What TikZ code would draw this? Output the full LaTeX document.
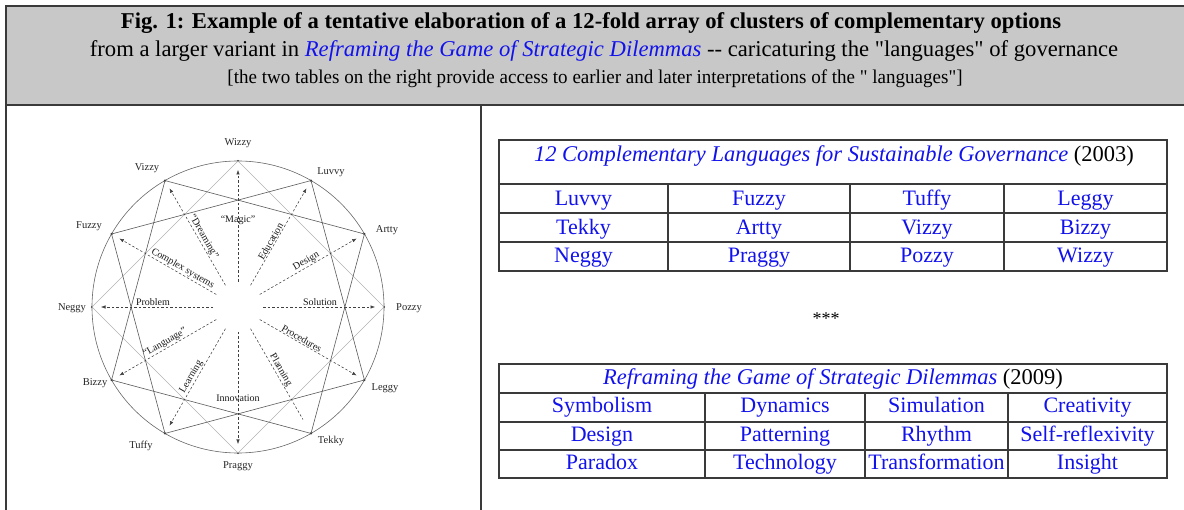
\documentclass[tikz,border=0pt]{standalone}
\usepackage{fontspec}
% keep typed quotes and hyphens exactly as written
\setmainfont{Liberation Serif}[Ligatures=TeXOff]
\usetikzlibrary{arrows.meta,calc}
\definecolor{hdrgray}{RGB}{200,200,200}
\definecolor{framec}{RGB}{58,58,58}
\definecolor{linkblue}{RGB}{18,18,235}
\begin{document}
\begin{tikzpicture}[x=1pt,y=-1pt,
  frameline/.style={draw=framec,line width=2pt},
  hdrtext/.style={anchor=base,inner sep=0pt},
  celltext/.style={anchor=base,inner sep=0pt,text=linkblue,font=\fontsize{22}{24}\selectfont},
  tabtitle/.style={anchor=base,inner sep=0pt,font=\fontsize{22.5}{26}\selectfont},
  tabouter/.style={draw=framec,line width=2pt},
  tabinner/.style={draw=framec,line width=1.3pt},
  ptlabel/.style={inner sep=0pt,text=black!85,font=\fontsize{10.5}{12}\selectfont},
  armlabel/.style={inner sep=0.8pt,text=black!90,font=\fontsize{10}{11}\selectfont},
  ring/.style={draw=black!60,line width=0.6pt},
  chord/.style={draw=black!65,line width=0.6pt},
  faintchord/.style={draw=black!30,line width=0.6pt},
  arm/.style={draw=black!75,line width=0.55pt,dash pattern=on 2.5pt off 2pt},
  armtip/.style={arm,-{Latex[length=4.5pt,width=3.5pt]}},
  vertex/.style={circle,fill=black!80,inner sep=0pt,minimum size=2.4pt}]
\useasboundingbox (0,0) rectangle (1184,510);

% ---- caption band and page frame
\fill[hdrgray] (6,6) rectangle (1184,105);
\draw[frameline] (6,510) -- (6,6) -- (1184,6);
\draw[frameline] (6,105) -- (1184,105);
\draw[frameline] (481,105) -- (481,510);

\node[hdrtext] (hdr1) at (591,29) {\resizebox{940pt}{!}{\bfseries Fig. 1: Example of a tentative elaboration of a 12-fold array of clusters of complementary options}};
\node[hdrtext] (hdr2) at (604,57) {\resizebox{1028pt}{!}{from a larger variant in {\color{linkblue}\itshape Reframing the Game of Strategic Dilemmas} -- caricaturing the "languages" of governance}};
\node[hdrtext] (hdr3) at (595,84) {\resizebox{735pt}{\height}{\fontsize{19.5}{22}\selectfont [the two tables on the right provide access to earlier and later interpretations of the " languages"]}};

% ---- table of 2003 languages
\draw[tabouter] (499,140) rectangle (1167,271);
\draw[tabinner] (499,184) -- (1167,184) (499,213) -- (1167,213) (499,242) -- (1167,242);
\draw[tabinner] (668,184) -- (668,271) (850,184) -- (850,271) (1004,184) -- (1004,271);
\node[tabtitle] (t1title) at (834,162) {{\color{linkblue}\itshape 12 Complementary Languages for Sustainable Governance} (2003)};
\node[celltext] (t1a1) at (583.5,206) {Luvvy};
\node[celltext] (t1a2) at (759,206) {Fuzzy};
\node[celltext] (t1a3) at (927,206) {Tuffy};
\node[celltext] (t1a4) at (1085.5,206) {Leggy};
\node[celltext] (t1b1) at (583.5,235) {Tekky};
\node[celltext] (t1b2) at (759,235) {Artty};
\node[celltext] (t1b3) at (927,235) {Vizzy};
\node[celltext] (t1b4) at (1085.5,235) {Bizzy};
\node[celltext] (t1c1) at (583.5,263) {Neggy};
\node[celltext] (t1c2) at (759,263) {Praggy};
\node[celltext] (t1c3) at (927,263) {Pozzy};
\node[celltext] (t1c4) at (1085.5,263) {Wizzy};

\node[anchor=base,inner sep=0pt,font=\fontsize{18}{20}\selectfont] (stars) at (826,325) {***};

% ---- table of 2009 themes
\draw[tabouter] (499,364) rectangle (1167,478);
\draw[tabinner] (499,393) -- (1167,393) (499,422) -- (1167,422) (499,450) -- (1167,450);
\draw[tabinner] (705,393) -- (705,478) (865,393) -- (865,478) (1008,393) -- (1008,478);
\node[tabtitle] (t2title) at (833,385) {{\color{linkblue}\itshape Reframing the Game of Strategic Dilemmas} (2009)};
\node[celltext] (t2a1) at (602,413) {Symbolism};
\node[celltext] (t2a2) at (785,413) {Dynamics};
\node[celltext] (t2a3) at (936.5,413) {Simulation};
\node[celltext] (t2a4) at (1087.5,413) {Creativity};
\node[celltext] (t2b1) at (602,442) {Design};
\node[celltext] (t2b2) at (785,442) {Patterning};
\node[celltext] (t2b3) at (936.5,442) {Rhythm};
\node[celltext] (t2b4) at (1087.5,442) {Self-reflexivity};
\node[celltext] (t2c1) at (602,470) {Paradox};
\node[celltext] (t2c2) at (785,470) {Technology};
\node[celltext] (t2c3) at (936.5,470) {Transformation};
\node[celltext] (t2c4) at (1087.5,470) {Insight};

% ---- twelve-fold circle: three interlaced squares
\begin{scope}[shift={(238,307)},y=1pt]
  \coordinate (ctr) at (0,0);
  \draw[ring] (ctr) circle[radius=146];
  \foreach \a/\n in {90/wizzy,60/luvvy,30/artty,0/pozzy,-30/leggy,-60/tekky,
                     -90/praggy,-120/tuffy,-150/bizzy,180/neggy,150/fuzzy,120/vizzy}{
    \node[vertex] (\n) at (\a:146) {};
    \coordinate (s-\n) at (\a:25);
    \coordinate (e-\n) at (\a:137);
  }
  \draw[faintchord] (wizzy.center) -- (pozzy.center) -- (praggy.center) -- (neggy.center) -- cycle;
  \draw[chord] (luvvy.center) -- (leggy.center) -- (tuffy.center) -- (fuzzy.center) -- cycle;
  \draw[chord] (artty.center) -- (tekky.center) -- (bizzy.center) -- (vizzy.center) -- cycle;

  % dashed arms from the hub towards each language
  \foreach \n in {wizzy,luvvy,artty,pozzy,leggy,praggy,tuffy,bizzy,neggy,fuzzy,vizzy}{
    \draw[armtip] (s-\n) -- (e-\n);
  }
  \coordinate (e2-tekky) at (-60:130);
  \draw[arm] (s-tekky) -- (e2-tekky);

  \node[armlabel] (l-magic) at (90:87) {“Magic”};
  \node[armlabel,anchor=south,rotate=60] (l-edu) at (60:73) {Education};
  \node[armlabel,anchor=south,rotate=30] (l-design) at (30:82) {Design};
  \node[armlabel,anchor=south] (l-sol) at (0:82) {Solution};
  \node[armlabel,anchor=south,rotate=-30] (l-proc) at (-30:71) {Procedures};
  \node[armlabel,anchor=south,rotate=-60] (l-plan) at (-60:76) {Planning};
  \node[armlabel] (l-innov) at (-90:91) {Innovation};
  \node[armlabel,anchor=south,rotate=60] (l-learn) at (-120:84) {Learning};
  \node[armlabel,anchor=south,rotate=30] (l-lang) at (-150:81) {“Language”};
  \node[armlabel,anchor=south] (l-prob) at (180:85) {Problem};
  \node[armlabel,anchor=south,rotate=-30] (l-cplx) at (150:67) {Complex systems};
  \node[armlabel,anchor=south,rotate=-60] (l-dream) at (120:78) {“Dreaming”};
\end{scope}

% ---- names of the twelve languages
\node[ptlabel] (n-wizzy) at (238,143) {Wizzy};
\node[ptlabel] (n-luvvy) at (331,172) {Luvvy};
\node[ptlabel] (n-artty) at (387,230) {Artty};
\node[ptlabel] (n-pozzy) at (409,308) {Pozzy};
\node[ptlabel] (n-leggy) at (385,388) {Leggy};
\node[ptlabel] (n-tekky) at (331,441) {Tekky};
\node[ptlabel] (n-praggy) at (238,466) {Praggy};
\node[ptlabel] (n-tuffy) at (141,446) {Tuffy};
\node[ptlabel] (n-bizzy) at (95,383) {Bizzy};
\node[ptlabel] (n-neggy) at (72,308) {Neggy};
\node[ptlabel] (n-fuzzy) at (89,226) {Fuzzy};
\node[ptlabel] (n-vizzy) at (147,168) {Vizzy};
\end{tikzpicture}
\end{document}
